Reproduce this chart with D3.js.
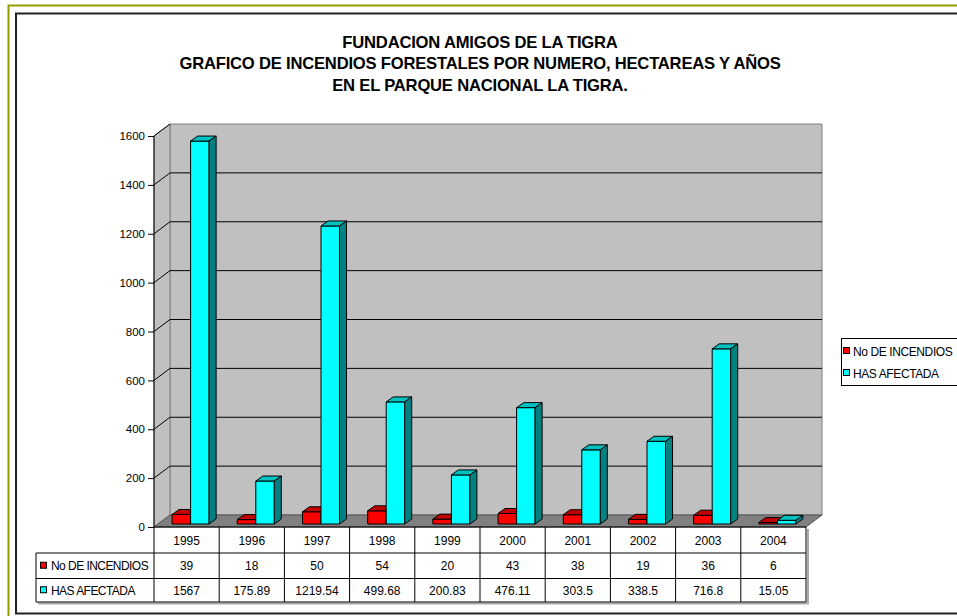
<!DOCTYPE html>
<html>
<head>
<meta charset="utf-8">
<script src="https://cdn.jsdelivr.net/npm/d3@7"></script>
<style>
  body { margin: 0; background: #fff; }
  svg { display: block; font-family: "Liberation Sans", Arial, sans-serif; }
</style>
</head>
<body>
<svg id="chart" width="957" height="616"></svg>
<script>
const years = ["1995", "1996", "1997", "1998", "1999", "2000", "2001", "2002", "2003", "2004"];
const incendios = [39, 18, 50, 54, 20, 43, 38, 19, 36, 6];
const hectareas = [1567, 175.89, 1219.54, 499.68, 200.83, 476.11, 303.5, 338.5, 716.8, 15.05];
const seriesNames = ["No DE INCENDIOS", "HAS AFECTADA"];
const yTicks = [0, 200, 400, 600, 800, 1000, 1200, 1400, 1600];
const titleLines = [
  "FUNDACION AMIGOS DE LA TIGRA",
  "GRAFICO DE INCENDIOS FORESTALES POR NUMERO, HECTAREAS Y AÑOS",
  "EN EL PARQUE NACIONAL LA TIGRA."
];

const colors = [
  { front: "#ff0000", top: "#c00000", side: "#800000" },
  { front: "#00ffff", top: "#00c0c0", side: "#008080" }
];

const svg = d3.select("#chart");

// frames
svg.append("rect").attr("x", 8.5).attr("y", 5.5).attr("width", 960).attr("height", 620)
  .attr("fill", "none").attr("stroke", "#999900").attr("stroke-width", 2);
svg.append("rect").attr("x", 16).attr("y", 13.5).attr("width", 960).attr("height", 600)
  .attr("fill", "#fff").attr("stroke", "#222").attr("stroke-width", 2);

// title
svg.append("g").selectAll("text").data(titleLines).join("text")
  .attr("x", 480).attr("y", (d, i) => 48 + i * 21.3)
  .attr("text-anchor", "middle").attr("font-weight", "bold").attr("font-size", 16.6)
  .attr("letter-spacing", -0.2)
  .text(d => d);

const x0 = 154, x1 = 806, yBase = 527, yTop = 136;
const DX = 16, DY = -12;

const x = d3.scaleBand().domain(years).range([x0, x1]);
const y = d3.scaleLinear().domain([0, 1600]).range([yBase, yTop]);
const xs = d3.scaleBand().domain([0, 1]).range([0, x.bandwidth()]).paddingOuter(0.76);

const pts = p => p.map(d => d.join(",")).join(" ");

// walls
const walls = svg.append("g");
walls.append("polygon")
  .attr("points", pts([[x0 + DX, y(1600) + DY], [x1 + DX, y(1600) + DY], [x1 + DX, yBase + DY], [x0 + DX, yBase + DY]]))
  .attr("fill", "#c0c0c0").attr("stroke", "#808080");
walls.append("polygon")
  .attr("points", pts([[x0, yBase], [x0, y(1600)], [x0 + DX, y(1600) + DY], [x0 + DX, yBase + DY]]))
  .attr("fill", "#c0c0c0").attr("stroke", "#808080");
walls.append("polygon")
  .attr("points", pts([[x0, yBase], [x1, yBase], [x1 + DX, yBase + DY], [x0 + DX, yBase + DY]]))
  .attr("fill", "#808080").attr("stroke", "#555");

const grid = yTicks.filter(d => d > 0 && d < 1600);
walls.selectAll("line.back").data(grid).join("line").attr("class", "back")
  .attr("x1", x0 + DX).attr("x2", x1 + DX)
  .attr("y1", d => y(d) + DY).attr("y2", d => y(d) + DY)
  .attr("stroke", "#000");
walls.selectAll("line.side").data(yTicks.filter(d => d > 0)).join("line").attr("class", "side")
  .attr("x1", x0).attr("x2", x0 + DX)
  .attr("y1", d => y(d)).attr("y2", d => y(d) + DY)
  .attr("stroke", "#000");

// bars
const bdx = 7, bdy = -5, ox = 4, oy = -3;
const bars = svg.append("g").attr("stroke", "#000").attr("stroke-linejoin", "round");
years.forEach((yr, i) => {
  [incendios[i], hectareas[i]].forEach((v, s) => {
    const w = xs.bandwidth();
    const bx = x(yr) + xs(s) + ox;
    const top = y(v) + oy, bot = yBase + oy;
    const c = colors[s];
    bars.append("rect").attr("x", bx).attr("y", top).attr("width", w).attr("height", bot - top)
      .attr("fill", c.front);
    bars.append("polygon")
      .attr("points", pts([[bx, top], [bx + w, top], [bx + w + bdx, top + bdy], [bx + bdx, top + bdy]]))
      .attr("fill", c.top);
    bars.append("polygon")
      .attr("points", pts([[bx + w, top], [bx + w + bdx, top + bdy], [bx + w + bdx, bot + bdy], [bx + w, bot]]))
      .attr("fill", c.side);
  });
});

// y axis
const yAxis = svg.append("g").attr("transform", `translate(${x0},0)`)
  .call(d3.axisLeft(y).tickValues(yTicks).tickSize(6).tickPadding(3).tickFormat(d3.format("d")));
yAxis.select(".domain").attr("stroke", "#000").attr("d", `M0,${y(1600)}V${yBase}`);
yAxis.selectAll(".tick line").attr("stroke", "#000");
yAxis.selectAll(".tick text").attr("font-size", 11.5).attr("fill", "#000")
  .attr("font-family", "Liberation Sans, Arial, sans-serif");

// data table
const rows = [527, 553, 578.5, 602];
const labX = 36;
const table = svg.append("g");
table.append("path")
  .attr("d", `M${labX + 2},${rows[3] + 1.5}H${x1 + 2}V${rows[0] + 2}`)
  .attr("fill", "none").attr("stroke", "#aaa").attr("stroke-width", 2);
table.append("line").attr("x1", x0).attr("x2", x1).attr("y1", rows[0]).attr("y2", rows[0]).attr("stroke", "#000");
table.selectAll("line.h").data(rows.slice(1)).join("line").attr("class", "h")
  .attr("x1", labX).attr("x2", x1).attr("y1", d => d).attr("y2", d => d).attr("stroke", "#000");
table.selectAll("line.v").data(years.map(d => x(d)).concat([x1])).join("line").attr("class", "v")
  .attr("x1", d => d).attr("x2", d => d).attr("y1", rows[0]).attr("y2", rows[3]).attr("stroke", "#000");
table.append("line").attr("x1", labX).attr("x2", labX).attr("y1", rows[1]).attr("y2", rows[3]).attr("stroke", "#000");

const cellText = (vals, r) => table.append("g").selectAll("text").data(vals).join("text")
  .attr("x", (d, i) => x(years[i]) + x.bandwidth() / 2)
  .attr("y", (rows[r] + rows[r + 1]) / 2 + 4.5)
  .attr("text-anchor", "middle").attr("font-size", 12)
  .text(d => String(d));
cellText(years, 0);
cellText(incendios, 1);
cellText(hectareas, 2);

seriesNames.forEach((name, s) => {
  const cy = (rows[s + 1] + rows[s + 2]) / 2;
  table.append("rect").attr("x", 40.5).attr("y", cy - 3.5).attr("width", 6).attr("height", 6)
    .attr("fill", colors[s].front).attr("stroke", "#000");
  table.append("text").attr("x", 51).attr("y", cy + 4.5).attr("font-size", 12).attr("letter-spacing", -0.55)
    .text(name);
});

// legend
const legend = svg.append("g");
legend.append("rect").attr("x", 841.5).attr("y", 338.5).attr("width", 130).attr("height", 47)
  .attr("fill", "#fff").attr("stroke", "#000");
seriesNames.forEach((name, s) => {
  const cy = 351 + s * 22;
  legend.append("rect").attr("x", 843.5).attr("y", cy - 3.5).attr("width", 6).attr("height", 6)
    .attr("fill", colors[s].front).attr("stroke", "#000");
  legend.append("text").attr("x", 853).attr("y", cy + 4.5).attr("font-size", 12).attr("letter-spacing", -0.4)
    .text(name);
});
</script>
</body>
</html>
